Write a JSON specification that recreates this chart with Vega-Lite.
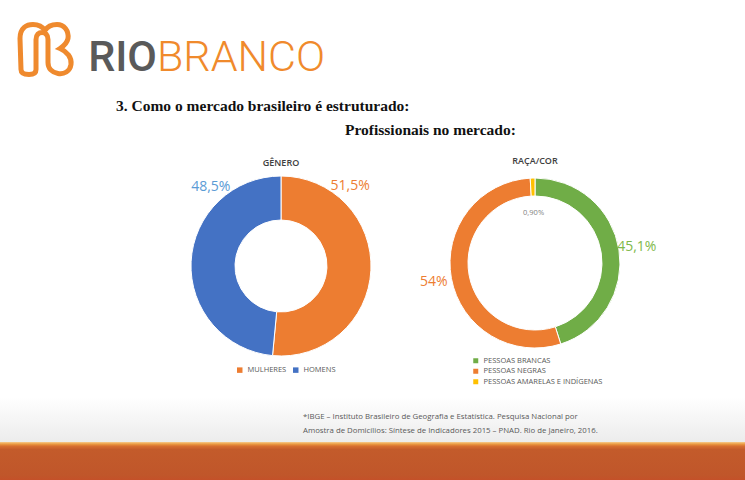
{
  "$schema": "https://vega.github.io/schema/vega-lite/v6.json",
  "padding": 0,
  "background": "white",
  "spacing": 0,
  "config": {"view": {"stroke": null}, "concat": {"spacing": 0}, "font": "Open Sans"},
  "vconcat": [
    {
      "width": 745,
      "height": 157,
      "layer": [
        {
          "data": {"values": [{}]},
          "mark": {"type": "point", "shape": "M -0.857 0.732 L -0.893 -0.375 C -0.893 -0.768 -0.643 -0.875 -0.429 -0.875 C -0.214 -0.875 -0.071 -0.768 0 -0.661 C 0.107 -0.839 0.286 -0.875 0.429 -0.875 C 0.679 -0.875 0.857 -0.661 0.821 -0.375 C 0.786 -0.196 0.643 -0.089 0.536 -0.018 C 0.786 0.089 0.964 0.304 0.929 0.554 C 0.893 0.804 0.679 0.911 0.464 0.875 C 0.25 0.839 0.107 0.696 0.107 0.482 L 0.107 -0.339 C 0.107 -0.518 0 -0.589 -0.107 -0.589 C -0.214 -0.589 -0.321 -0.518 -0.321 -0.339 L -0.321 0.732 C -0.321 0.875 -0.429 0.911 -0.571 0.911 C -0.75 0.911 -0.857 0.875 -0.857 0.732 Z", "size": 3136, "filled": false, "stroke": "#EF8A2E", "strokeWidth": 5, "opacity": 1, "x": 45, "y": 49}
        },
        {
          "data": {"values": [{}]},
          "mark": {"type": "text", "text": "RIO", "x": 157, "y": 71, "align": "right", "baseline": "alphabetic", "font": "Roboto", "fontSize": 43, "fontWeight": 500, "color": "#5A5A5A"}
        },
        {
          "data": {"values": [{}]},
          "mark": {"type": "text", "text": "BRANCO", "x": 157, "y": 71, "align": "left", "baseline": "alphabetic", "font": "Roboto", "fontSize": 43, "fontWeight": 300, "color": "#F08A2C"}
        },
        {
          "data": {"values": [{}]},
          "mark": {"type": "text", "text": "3. Como o mercado brasileiro é estruturado:", "x": 116, "y": 111, "align": "left", "baseline": "alphabetic", "font": "Liberation Serif", "fontSize": 15.5, "fontWeight": "bold", "color": "#111111"}
        },
        {
          "data": {"values": [{}]},
          "mark": {"type": "text", "text": "Profissionais no mercado:", "x": 345, "y": 135, "align": "left", "baseline": "alphabetic", "font": "Liberation Serif", "fontSize": 15.5, "fontWeight": "bold", "color": "#111111"}
        }
      ]
    },
    {
      "hconcat": [
        {
          "width": 154,
          "height": 178,
          "data": {"values": [{}]},
          "mark": {"type": "text", "text": ""}
        },
        {
          "width": 254,
          "height": 178,
          "title": {"text": "GÊNERO", "fontSize": 9, "fontWeight": 600, "color": "#404040", "offset": 6, "anchor": "middle", "frame": "group"},
          "data": {"values": [
            {"genero": "MULHERES", "pct": 51.5, "rotulo": "51,5%"},
            {"genero": "HOMENS", "pct": 48.5, "rotulo": "48,5%"}
          ]},
          "layer": [
            {
              "mark": {"type": "arc", "outerRadius": 90, "innerRadius": 46, "stroke": "#ffffff", "strokeWidth": 1},
              "encoding": {
                "theta": {"field": "pct", "type": "quantitative", "stack": true},
                "order": {"field": "genero", "sort": "descending"},
                "color": {"field": "genero", "type": "nominal", "scale": {"domain": ["MULHERES", "HOMENS"], "range": ["#ED7D31", "#4472C4"]},
                  "legend": {"title": null, "orient": "none", "legendX": 82, "legendY": 189, "direction": "horizontal", "symbolType": "square", "symbolSize": 30, "symbolStrokeWidth": 0, "labelFontSize": 7.5, "labelColor": "#595959", "columnPadding": 5}}
              }
            },
            {
              "mark": {"type": "text", "radius": 106, "fontSize": 14},
              "encoding": {
                "theta": {"field": "pct", "type": "quantitative", "stack": true, "scale": {"range": [-1.42, 1.45]}},
                "order": {"field": "genero", "sort": "ascending"},
                "text": {"field": "rotulo"},
                "color": {"field": "genero", "type": "nominal", "scale": {"domain": ["MULHERES", "HOMENS"], "range": ["#ED7D31", "#5B9BD5"]}, "legend": null}
              }
            }
          ],
          "resolve": {"scale": {"theta": "independent", "color": "independent"}}
        },
        {
          "width": 254,
          "height": 172,
          "title": {"text": "RAÇA/COR", "fontSize": 9, "fontWeight": 600, "color": "#404040", "offset": 10, "anchor": "middle", "frame": "group"},
          "data": {"values": [
            {"raca": "PESSOAS BRANCAS", "pct": 45.1, "rotulo": "45,1%", "ordem": 1},
            {"raca": "PESSOAS NEGRAS", "pct": 54, "rotulo": "54%", "ordem": 2},
            {"raca": "PESSOAS AMARELAS E INDÍGENAS", "pct": 0.9, "rotulo": "0,90%", "ordem": 3}
          ]},
          "layer": [
            {
              "mark": {"type": "arc", "outerRadius": 85, "innerRadius": 67, "stroke": "#ffffff", "strokeWidth": 1},
              "encoding": {
                "theta": {"field": "pct", "type": "quantitative", "stack": true},
                "order": {"field": "ordem"},
                "color": {"field": "raca", "type": "nominal", "scale": {"domain": ["PESSOAS BRANCAS", "PESSOAS NEGRAS", "PESSOAS AMARELAS E INDÍGENAS"], "range": ["#70AD47", "#ED7D31", "#FFC000"]},
                  "legend": {"title": null, "orient": "none", "legendX": 64, "legendY": 180, "direction": "vertical", "symbolType": "square", "symbolSize": 25, "symbolStrokeWidth": 0, "labelFontSize": 7.5, "labelColor": "#595959", "rowPadding": 1.5}}
              }
            },
            {
              "transform": [{"filter": "datum.pct >= 1"}],
              "mark": {"type": "text", "radius": 103, "fontSize": 14},
              "encoding": {
                "theta": {"field": "pct", "type": "quantitative", "stack": true},
                "order": {"field": "ordem"},
                "text": {"field": "rotulo"},
                "color": {"field": "raca", "type": "nominal", "scale": {"domain": ["PESSOAS BRANCAS", "PESSOAS NEGRAS"], "range": ["#7FB94A", "#ED7D31"]}, "legend": null}
              }
            },
            {
              "mark": {"type": "text", "radius": 50, "fontSize": 7.5, "color": "#7F7F7F"},
              "encoding": {
                "theta": {"field": "pct", "type": "quantitative", "stack": true},
                "order": {"field": "ordem"},
                "text": {"condition": {"test": "datum.pct < 1", "field": "rotulo"}, "value": ""}
              }
            }
          ],
          "resolve": {"scale": {"color": "independent"}}
        }
      ],
      "spacing": 0,
      "bounds": "flush"
    },
    {
      "width": 745,
      "height": 56,
      "layer": [
        {
          "data": {"values": [{}]},
          "mark": {"type": "rect", "color": {"gradient": "linear", "x1": 0, "y1": 0, "x2": 0, "y2": 1, "stops": [{"offset": 0, "color": "rgba(236,236,236,0)"}, {"offset": 0.2, "color": "rgba(236,236,236,0)"}, {"offset": 1, "color": "#ececec"}]}}
        },
        {
          "data": {"values": [{}]},
          "mark": {"type": "text", "text": ["*IBGE – Instituto Brasileiro de Geografia e Estatística. Pesquisa Nacional por", "Amostra de Domicílios: Síntese de Indicadores 2015 – PNAD. Rio de Janeiro, 2016."], "x": 303, "y": 33, "align": "left", "baseline": "alphabetic", "fontSize": 7.8, "lineHeight": 14, "color": "#595959"}
        }
      ]
    },
    {
      "width": 745,
      "height": 42,
      "layer": [
        {
          "data": {"values": [{}]},
          "mark": {"type": "rect", "color": {"gradient": "linear", "x1": 0, "y1": 0, "x2": 0, "y2": 1, "stops": [{"offset": 0, "color": "#F7CB8C"}, {"offset": 0.05, "color": "#EA9A42"}, {"offset": 0.1, "color": "#D76E30"}, {"offset": 0.18, "color": "#C35B2B"}, {"offset": 0.8, "color": "#C0562A"}, {"offset": 1, "color": "#C84B28"}]}}
        }
      ]
    }
  ]
}
